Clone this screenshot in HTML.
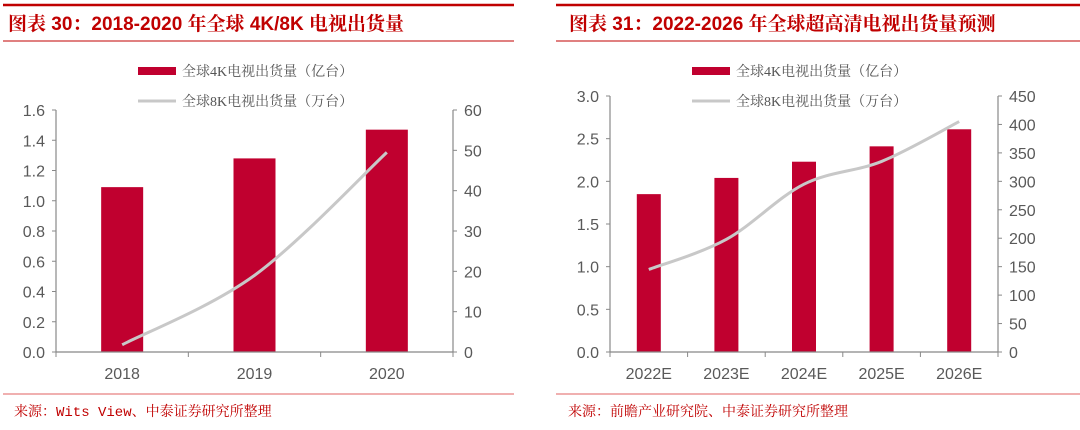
<!DOCTYPE html>
<html><head><meta charset="utf-8">
<style>
body{margin:0;background:#fff;width:1080px;height:425px;overflow:hidden;font-family:"Liberation Sans","Noto Sans CJK SC",sans-serif}
svg text{font-family:"Liberation Sans","Noto Sans CJK SC",sans-serif}
svg text.cjk{font-family:"Liberation Serif","Noto Serif CJK SC",serif}
svg text.src{font-family:"Liberation Mono","Noto Serif CJK SC",monospace}
svg text.ttl{font-family:"Liberation Sans","Noto Serif CJK SC",serif}
</style></head><body>
<svg id="s" width="1080" height="425" xmlns="http://www.w3.org/2000/svg">
<line x1="3" y1="5" x2="514" y2="5" stroke="#c00000" stroke-width="2.5"/>
<text x="8" y="30" font-size="19" font-weight="bold" fill="#c00000" class="ttl">图表 30：2018-2020 年全球 4K/8K 电视出货量</text>
<line x1="3" y1="41" x2="514" y2="41" stroke="#c00000" stroke-width="1"/>
<line x1="3" y1="394" x2="514" y2="394" stroke="#e06060" stroke-width="1"/>
<text x="14" y="416" font-size="14" fill="#c00000" class="src">来源：Wits View、中泰证券研究所整理</text>

<line x1="556" y1="5" x2="1080" y2="5" stroke="#c00000" stroke-width="2.5"/>
<text x="569" y="30" font-size="19" font-weight="bold" fill="#c00000" class="ttl">图表 31：2022-2026 年全球超高清电视出货量预测</text>
<line x1="556" y1="41" x2="1080" y2="41" stroke="#c00000" stroke-width="1"/>
<line x1="556" y1="394" x2="1080" y2="394" stroke="#e06060" stroke-width="1"/>
<text x="568" y="416" font-size="14" fill="#c00000" class="src">来源：前瞻产业研究院、中泰证券研究所整理</text>
<g id="g1"></g><g id="g2"></g>
</svg>
<script>
const cats1=["2018","2019","2020"];
const bars1=[1.09,1.28,1.47];
const line1=[1.8,19,49.5];
const leftTicks1=["0.0","0.2","0.4","0.6","0.8","1.0","1.2","1.4","1.6"];
const rightTicks1=["0","10","20","30","40","50","60"];

const cats2=["2022E","2023E","2024E","2025E","2026E"];
const bars2=[1.85,2.04,2.23,2.41,2.61];
const line2=[145,198,295,335,405];
const leftTicks2=["0.0","0.5","1.0","1.5","2.0","2.5","3.0"];
const rightTicks2=["0","50","100","150","200","250","300","350","400","450"];

const NS="http://www.w3.org/2000/svg";
function mk(p,t,a){const e=document.createElementNS(NS,t);for(const k in a)e.setAttribute(k,a[k]);p.appendChild(e);return e;}
function draw(g,o){
  const {x0,x1,y0,y1,cats,bars,line,lt,rt,bw,legX,prefix}=o;
  const lmax=parseFloat(lt[lt.length-1]),rmax=parseFloat(rt[rt.length-1]);
  const yl=v=>y0-(v/lmax)*(y0-y1), yr=v=>y0-(v/rmax)*(y0-y1);
  const cw=(x1-x0)/cats.length, cx=i=>x0+cw*(i+0.5);
  let e;
  e=mk(g,"rect",{x:legX,y:67,width:38,height:8,fill:"#c0002f"});
  
  
  e=mk(g,"text",{x:legX+44,y:76,"font-size":14,fill:"#555",class:"cjk"});e.textContent="全球4K电视出货量（亿台）";
  
  
  e=mk(g,"line",{x1:legX,y1:101,x2:legX+38,y2:101,stroke:"#c8c8c8","stroke-width":3});
  
  
  e=mk(g,"text",{x:legX+44,y:106,"font-size":14,fill:"#555",class:"cjk"});e.textContent="全球8K电视出货量（万台）";
  
  
  bars.forEach((v,i)=>{
    e=mk(g,"rect",{x:cx(i)-bw/2,y:yl(v),width:bw,height:y0-yl(v),fill:"#c0002f"});
    
    
  });
  e=mk(g,"line",{x1:x0,y1:y1,x2:x0,y2:y0,stroke:"#888","stroke-width":1.2});
  
  
  e=mk(g,"line",{x1:x1,y1:y1,x2:x1,y2:y0,stroke:"#888","stroke-width":1.2});
  
  
  e=mk(g,"line",{x1:x0,y1:y0,x2:x1,y2:y0,stroke:"#888","stroke-width":1.2});
  
  
  lt.forEach(t=>{const y=yl(parseFloat(t));
    mk(g,"line",{x1:x0-4,y1:y,x2:x0,y2:y,stroke:"#888"});
    e=mk(g,"text",{x:x0-11,y:y+6,"font-size":16,fill:"#595959","text-anchor":"end"});e.textContent=t;
    
    
  });
  rt.forEach(t=>{const y=yr(parseFloat(t));
    mk(g,"line",{x1:x1,y1:y,x2:x1+4,y2:y,stroke:"#888"});
    e=mk(g,"text",{x:x1+11,y:y+6,"font-size":16,fill:"#595959"});e.textContent=t;
    
    
  });
  for(let i=0;i<=cats.length;i++){const x=x0+cw*i;mk(g,"line",{x1:x,y1:y0,x2:x,y2:y0+5,stroke:"#888"});}
  cats.forEach((c,i)=>{
    e=mk(g,"text",{x:cx(i),y:y0+27,"font-size":16,fill:"#595959","text-anchor":"middle"});e.textContent=c;
    
    
  });
  const P=line.map((v,i)=>[cx(i),yr(v)]);
  let d="M"+P[0][0]+","+P[0][1];
  for(let i=0;i<P.length-1;i++){
    const p0=P[Math.max(0,i-1)],p1=P[i],p2=P[i+1],p3=P[Math.min(P.length-1,i+2)];
    const c1=[p1[0]+(p2[0]-p0[0])/6,p1[1]+(p2[1]-p0[1])/6];
    const c2=[p2[0]-(p3[0]-p1[0])/6,p2[1]-(p3[1]-p1[1])/6];
    d+=` C${c1[0]},${c1[1]} ${c2[0]},${c2[1]} ${p2[0]},${p2[1]}`;
  }
  e=mk(g,"path",{d:d,fill:"none",stroke:"#c8c8c8","stroke-width":3});
  
  
}
draw(document.getElementById("g1"),{x0:56,x1:453,y0:352,y1:110,cats:cats1,bars:bars1,line:line1,lt:leftTicks1,rt:rightTicks1,bw:42,legX:138,prefix:"left-"});
draw(document.getElementById("g2"),{x0:610,x1:998,y0:352,y1:96,cats:cats2,bars:bars2,line:line2,lt:leftTicks2,rt:rightTicks2,bw:24,legX:692,prefix:"right-"});
</script>
</body></html>
